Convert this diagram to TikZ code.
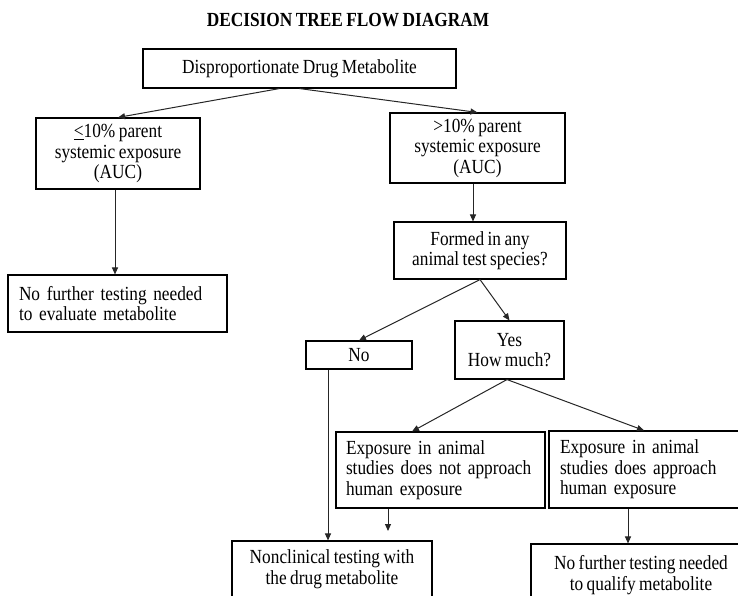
\documentclass[tikz,border=0pt]{standalone}
\usepackage{fontspec}
\setmainfont[FakeStretch = 0.865, WordSpace = 0.8]{Liberation Serif}
\usepackage{tikz}
\usetikzlibrary{arrows.meta}
\tikzset{box/.style = {draw, line width = 1.1pt, inner sep = 0, align = center,
                       font = \fontsize{20}{20.5}\selectfont}}
\tikzset{lbox/.style = {box, align = left, inner xsep = 11pt}}
\tikzset{flow/.style = {-{Triangle[length = 7pt, width = 6pt]}, line width = 1pt, black!85}}

\begin{document}
\begin{tikzpicture}[x = 1pt, y = -1pt]
      \useasboundingbox (0, 0) rectangle (738, 595);
      \clip (0, 0) rectangle (738, 595);
      \node [font = \bfseries\fontsize{20}{20}\selectfont] (title) at (348, 20) {DECISION TREE FLOW DIAGRAM};
      % first split on exposure
      \node [box, minimum width = 313pt, minimum height = 39pt] (drug) at (299.5, 68.5) {Disproportionate Drug Metabolite};
      \node [box, minimum width = 164pt, minimum height = 71pt] (low) at (118, 153.5) {\underline{<}10\% parent\\systemic exposure\\(AUC)};
      \node [box, minimum width = 175pt, minimum height = 70pt] (high) at (477.5, 148) {>10\% parent\\systemic exposure\\(AUC)};
      \node [lbox, text width = 197pt, minimum height = 57pt] (evalmet) at (117.5, 303.5) {No further testing needed\\to evaluate metabolite};
      \node [box, minimum width = 172pt, minimum height = 57pt] (formed) at (480, 250.5) {Formed in any\\animal test species?};
      \node [box, minimum width = 106pt, minimum height = 28pt] (no) at (359, 355) {No};
      \node [box, minimum width = 109pt, minimum height = 58pt] (yes) at (509.5, 350) {Yes\\How much?};
      % animal exposure compared with human exposure
      \node [lbox, inner xsep = 10pt, text width = 189pt, minimum height = 76pt] (notappr) at (440.5, 470) {Exposure in animal\\studies does not approach\\human exposure};
      \node [lbox, text width = 168pt, minimum height = 77pt] (appr) at (644, 469.5) {Exposure in animal\\studies does approach\\human exposure};
      \node [box, minimum width = 200pt, minimum height = 56pt] (nonclin) at (332, 569) {Nonclinical testing with\\the drug metabolite};
      \node [box, minimum width = 220pt, minimum height = 62pt] (qualify) at (641, 575) {No further testing needed\\to qualify metabolite};
      \coordinate (gap) at (388, 531);

      \draw [flow] ([xshift = -20pt]drug.south) -- (low.north);
      \draw [flow] (drug.south) -- (high.north);
      \draw [flow] ([xshift = -3pt]low.south) -- ([xshift = -3pt]low.south |- evalmet.north);
      \draw [flow] ([xshift = -4.5pt]high.south) -- ([xshift = -4.5pt]high.south |- formed.north);
      \draw [flow] (formed.south) -- (no.north);
      \draw [flow] (formed.south) -- (yes.north);
      \draw [flow] ([xshift = -31pt]no.south) -- ([xshift = -31pt]no.south |- nonclin.north);
      \draw [flow] ([xshift = -2.5pt]yes.south) -- ([xshift = -28.5pt]notappr.north);
      \draw [flow] ([xshift = -2.5pt]yes.south) -- (appr.north);
      \draw [flow] (notappr.south -| gap) -- (gap);
      \draw [flow] ([xshift = -13pt]appr.south -| qualify.north) -- ([xshift = -13pt]qualify.north);
    \end{tikzpicture}
\end{document}
